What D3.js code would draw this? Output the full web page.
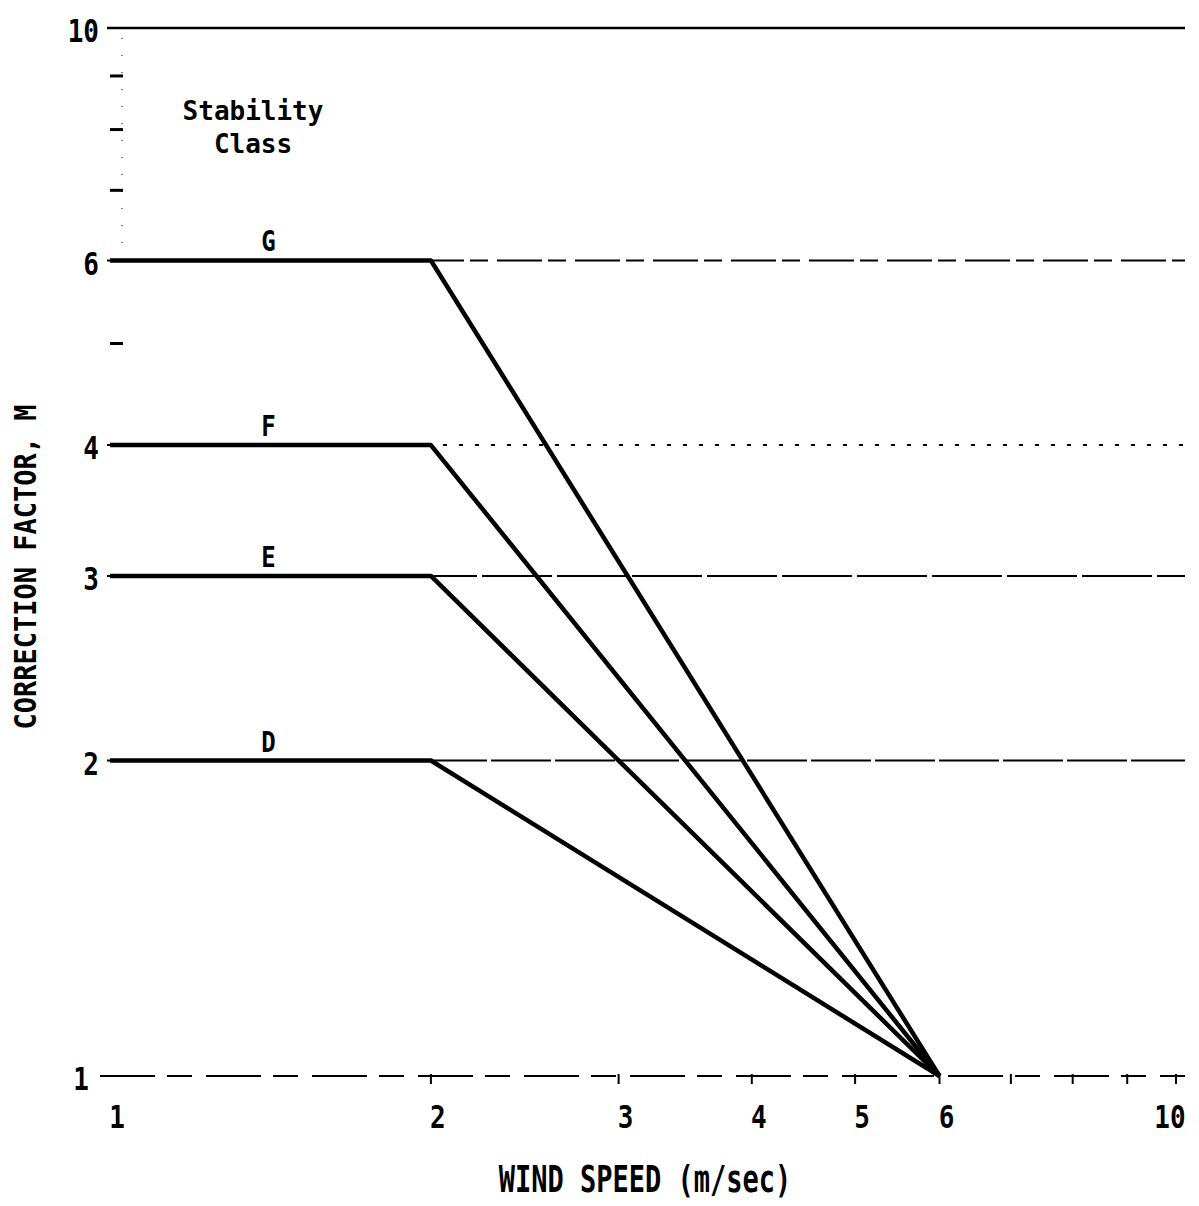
<!DOCTYPE html>
<html>
<head>
<meta charset="utf-8">
<script src="https://cdn.jsdelivr.net/npm/d3@7"></script>
<style>
  body { margin: 0; background: #fff; }
  text { font-family: "DejaVu Sans Mono", "Liberation Mono", monospace; font-weight: bold; fill: #000; }
</style>
</head>
<body>
<svg id="chart" width="1199" height="1206"></svg>
<script>
// Data.
const stabilityClasses = ["G", "F", "E", "D"];
const windSpeeds = [1, 2, 6];
const correctionValues = [
  [6, 6, 1],
  [4, 4, 1],
  [3, 3, 1],
  [2, 2, 1]
];
const gridLevels = [10, 6, 4, 3, 2, 1];
const yTickLabels = [10, 6, 4, 3, 2, 1];
const yMinorTicks = [5, 7, 8, 9];
const xTickLabels = [1, 2, 3, 4, 5, 6, 10];
const xMinorTicks = [2, 3, 4, 5, 6, 7, 8, 9, 10];

const svg = d3.select("#chart");

// Log-log scales.
const x = d3.scaleLog().domain([1, 10]).range([110, 1176]);
const y = d3.scaleLog().domain([1, 10]).range([1076, 28]);

// The typed lettering of the original is tall and narrow, so stretch it a bit.
const TALL = 1.22;

// Gridline looks (scanned lines are broken in places).
const gridDash = { 10: null, 6: "45,6,18,9", 4: "4,12", 3: "70,5", 2: "60,4", 1: "55,12,25,14" };

// Horizontal gridlines across the plot.
svg.selectAll(".grid")
  .data(gridLevels)
  .join("line")
  .attr("class", "grid")
  .attr("x1", d => d === 1 ? x(1) - 10 : x(1) - 3)
  .attr("x2", 1185)
  .attr("y1", d => y(d))
  .attr("y2", d => y(d))
  .attr("stroke", "#000")
  .attr("stroke-width", d => d === 10 ? 2.5 : 2)
  .attr("stroke-dasharray", d => gridDash[d]);

// Faint dotted y axis.
svg.append("line")
  .attr("x1", x(1) + 12).attr("x2", x(1) + 12)
  .attr("y1", y(10) + 10).attr("y2", y(6))
  .attr("stroke", "#000").attr("stroke-width", 1)
  .attr("stroke-dasharray", "1,16");

// Y minor ticks.
svg.selectAll(".ytick")
  .data(yMinorTicks)
  .join("line")
  .attr("class", "ytick")
  .attr("x1", x(1)).attr("x2", x(1) + 13)
  .attr("y1", d => y(d)).attr("y2", d => y(d))
  .attr("stroke", "#000").attr("stroke-width", 3);

// X ticks below the bottom line.
svg.selectAll(".xtick")
  .data(xMinorTicks)
  .join("line")
  .attr("class", "xtick")
  .attr("x1", d => x(d)).attr("x2", d => x(d))
  .attr("y1", y(1) - 2).attr("y2", y(1) + 8)
  .attr("stroke", "#000").attr("stroke-width", 2);

// Y tick labels.
svg.selectAll(".ylabel")
  .data(yTickLabels)
  .join("text")
  .attr("class", "ylabel")
  .attr("transform", d => `translate(${d === 1 ? 89 : 99},${y(d) + 3}) scale(1,${TALL})`)
  .attr("dy", "0.36em")
  .attr("text-anchor", "end")
  .attr("font-size", 26)
  .text(d => d);

// X tick labels (the last one sits just inside the right end).
svg.selectAll(".xlabel")
  .data(xTickLabels)
  .join("text")
  .attr("class", "xlabel")
  .attr("transform", d => `translate(${Math.min(x(d) + 7, 1170)},1117) scale(1,${TALL})`)
  .attr("dy", "0.36em")
  .attr("text-anchor", "middle")
  .attr("font-size", 26)
  .text(d => d);

// Class lines.
const line = d3.line()
  .x((d, i) => x(windSpeeds[i]))
  .y(d => y(d));

svg.selectAll(".series")
  .data(correctionValues)
  .join("path")
  .attr("class", "series")
  .attr("d", d => line(d))
  .attr("fill", "none")
  .attr("stroke", "#000")
  .attr("stroke-width", 4.5)
  .attr("stroke-linejoin", "round");

// Class letters above the flat parts.
svg.selectAll(".classlabel")
  .data(stabilityClasses)
  .join("text")
  .attr("class", "classlabel")
  .attr("transform", (d, i) => `translate(${x(Math.SQRT2) - 2},${y(correctionValues[i][0]) - 9}) scale(1,1.15)`)
  .attr("text-anchor", "middle")
  .attr("font-size", 24)
  .text(d => d);

// Legend header.
svg.append("text")
  .attr("transform", "translate(253,120) scale(1,1.05)")
  .attr("text-anchor", "middle")
  .attr("font-size", 26)
  .text("Stability");
svg.append("text")
  .attr("transform", "translate(253,153) scale(1,1.05)")
  .attr("text-anchor", "middle")
  .attr("font-size", 26)
  .text("Class");

// Axis titles.
svg.append("text")
  .attr("transform", "translate(36,567) rotate(-90) scale(1,1.1)")
  .attr("text-anchor", "middle")
  .attr("font-size", 27)
  .text("CORRECTION FACTOR, M");

svg.append("text")
  .attr("transform", "translate(645,1192) scale(1,1.35)")
  .attr("text-anchor", "middle")
  .attr("font-size", 27)
  .text("WIND SPEED (m/sec)");
</script>
</body>
</html>
